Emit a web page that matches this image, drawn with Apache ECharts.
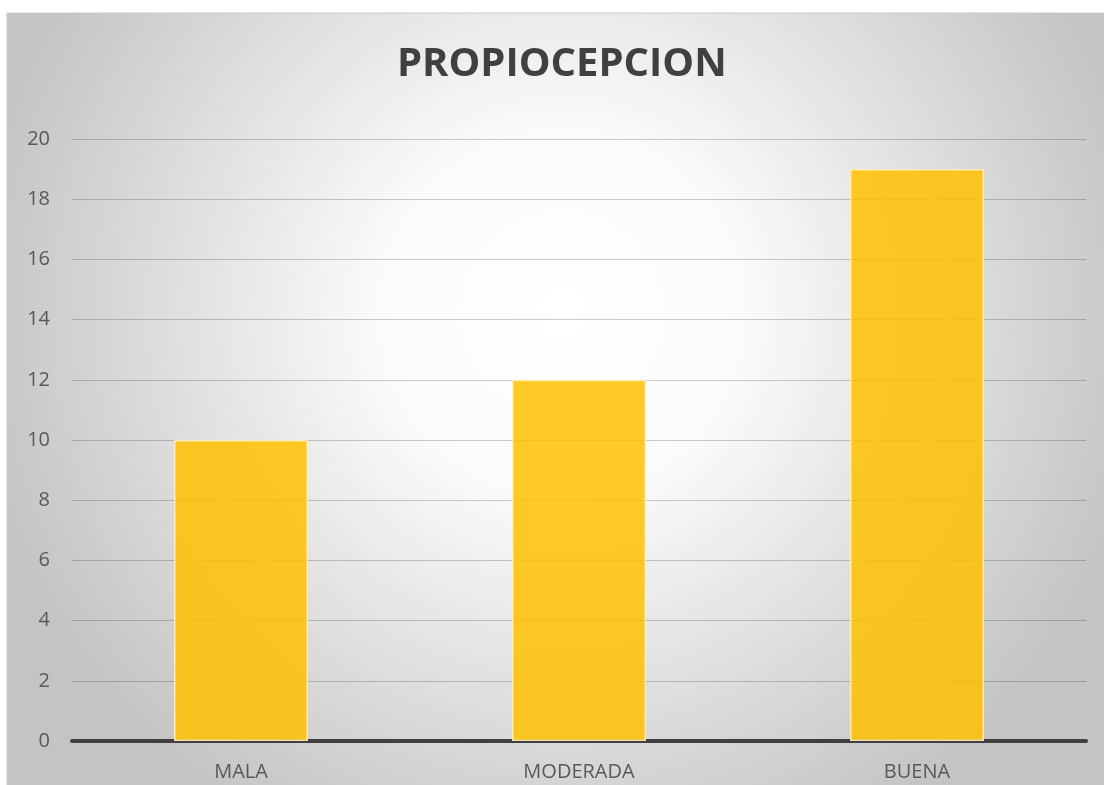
<!DOCTYPE html>
<html><head><meta charset="utf-8">
<script src="https://cdn.jsdelivr.net/npm/echarts@6/dist/echarts.min.js"></script>
<style>html,body{margin:0;padding:0;background:#fff;}#c{width:1104px;height:785px;}</style>
</head><body><div id="c"></div>
<script>
const title = 'PROPIOCEPCION';
const categories = ['MALA', 'MODERADA', 'BUENA'];
const values = [10, 12, 19];
const yMin = 0, yMax = 20, yStep = 2;

const chart = echarts.init(document.getElementById('c'), null, {renderer: 'canvas'});
chart.setOption({
  animation: false,
  graphic: [{
    type: 'rect', z: -10, silent: true,
    shape: {x: 7, y: 13, width: 1110, height: 790},
    style: {
      fill: new echarts.graphic.RadialGradient(0.5, 0.38, 0.75, [
        {offset: 0, color: '#ffffff'},
        {offset: 0.3, color: '#fbfbfb'},
        {offset: 1, color: '#c4c4c4'}
      ]),
      stroke: '#c8c8c8', lineWidth: 1
    }
  }],
  title: {
    text: title, left: 392, top: 40,
    textStyle: {fontFamily: 'Open Sans', fontWeight: 'bold', fontSize: 40, color: '#404040'}
  },
  grid: {left: 72, right: 18, top: 139, bottom: 44, containLabel: false},
  xAxis: {
    type: 'category', data: categories,
    axisLine: {lineStyle: {color: '#404040', width: 4}},
    axisTick: {show: false},
    axisLabel: {fontFamily: 'Open Sans', fontSize: 20, color: '#595959', margin: 21}
  },
  yAxis: {
    type: 'value', min: yMin, max: yMax, interval: yStep,
    axisLine: {show: false}, axisTick: {show: false},
    axisLabel: {fontFamily: 'Open Sans', fontSize: 20, color: '#595959', margin: 22},
    splitLine: {lineStyle: {color: 'rgba(0,0,0,0.2)', width: 1}}
  },
  series: [{
    type: 'bar', data: values, barWidth: 134,
    itemStyle: {color: 'rgba(255,192,0,0.85)', borderColor: 'rgba(255,240,190,0.9)', borderWidth: 1.5}
  }]
});
</script></body></html>
